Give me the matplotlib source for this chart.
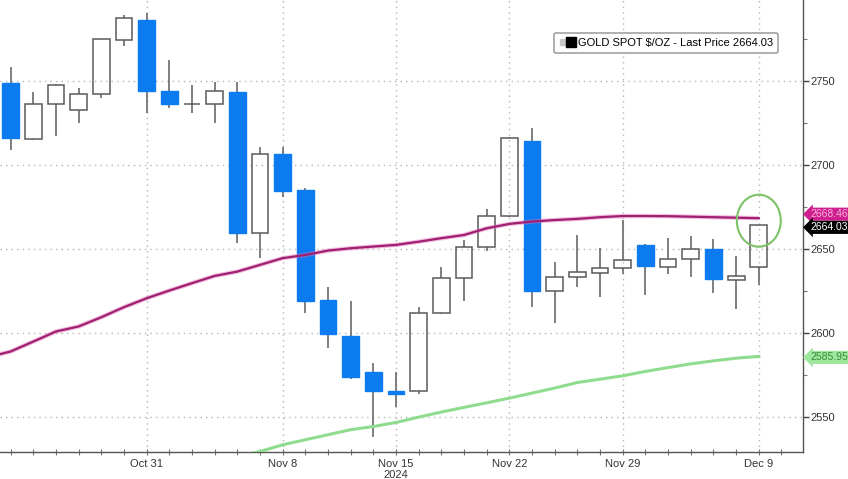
import numpy as np
import matplotlib
matplotlib.use("Agg")
import matplotlib.pyplot as plt
from matplotlib.lines import Line2D
from matplotlib.legend_handler import HandlerTuple
from matplotlib.patches import Ellipse
import matplotlib.transforms as mtransforms

plt.rcParams['font.family'] = ['Liberation Sans', 'DejaVu Sans']

# ---- data ----
dates = ["Oct 23", "Oct 24", "Oct 25", "Oct 28", "Oct 29", "Oct 30", "Oct 31",
         "Nov 1", "Nov 4", "Nov 5", "Nov 6", "Nov 7", "Nov 8",
         "Nov 11", "Nov 12", "Nov 13", "Nov 14", "Nov 15",
         "Nov 18", "Nov 19", "Nov 20", "Nov 21", "Nov 22",
         "Nov 25", "Nov 26", "Nov 27", "Nov 28", "Nov 29",
         "Dec 2", "Dec 3", "Dec 4", "Dec 5", "Dec 6", "Dec 9"]
opens = [2748.6, 2715.3, 2736.3, 2732.7, 2742.3, 2774.4, 2786.3,
         2744.2, 2736.2, 2736.3, 2743.6, 2659.3, 2706.5,
         2685.1, 2619.6, 2598.4, 2576.4, 2565.5,
         2565.1, 2612.1, 2632.6, 2651.0, 2669.6,
         2714.5, 2625.2, 2633.5, 2635.9, 2638.5,
         2652.4, 2639.5, 2643.9, 2650.0, 2631.5, 2639.5]
highs = [2758.5, 2743.6, 2748.0, 2745.6, 2775.2, 2789.3, 2790.3,
         2762.5, 2747.6, 2749.6, 2749.6, 2711.0, 2711.0,
         2686.0, 2627.2, 2619.2, 2582.0, 2576.4,
         2615.3, 2639.5, 2655.4, 2673.6, 2716.8,
         2721.8, 2642.4, 2658.3, 2650.4, 2667.0,
         2652.8, 2656.4, 2657.7, 2655.8, 2645.8, 2664.5]
lows = [2708.9, 2714.8, 2717.3, 2724.8, 2739.9, 2770.8, 2730.8,
        2733.8, 2730.8, 2725.2, 2653.7, 2644.5, 2681.1,
        2611.7, 2590.9, 2572.5, 2537.9, 2555.8,
        2563.5, 2611.3, 2619.2, 2649.0, 2669.0,
        2615.3, 2606.1, 2627.5, 2621.6, 2635.0,
        2622.6, 2635.1, 2633.5, 2624.0, 2614.1, 2628.6]
closes = [2715.9, 2736.3, 2747.6, 2742.3, 2774.8, 2787.3, 2744.2,
          2736.3, 2736.5, 2744.2, 2659.3, 2706.5, 2684.7,
          2619.2, 2599.2, 2573.6, 2565.5, 2563.5,
          2612.1, 2632.6, 2651.0, 2669.6, 2716.3,
          2625.2, 2633.5, 2636.5, 2638.5, 2643.5,
          2639.9, 2643.9, 2650.0, 2632.0, 2634.0, 2664.03]

# 50-day moving average (magenta), starts one session before Oct 23 (Oct 22)
ma50_start = -1
ma50 = [2585.5, 2588.9, 2594.8, 2600.8, 2603.8, 2609.3, 2615.3, 2620.6,
        2625.2, 2629.6, 2633.9, 2636.5, 2640.5, 2644.5,
        2646.4, 2649.0, 2650.4, 2651.4, 2652.4,
        2654.3, 2656.4, 2658.3, 2662.3, 2664.9,
        2666.3, 2667.2, 2667.9, 2668.9, 2669.6,
        2669.6, 2669.5, 2669.2, 2668.9, 2668.6, 2668.3]
# 200-day moving average (green), starts on Nov 6
ma200_start = 10
ma200 = [2526.5, 2529.3, 2533.3,
         2536.3, 2539.3, 2542.3, 2544.2, 2546.6,
         2549.8, 2552.8, 2555.6, 2558.3, 2561.1,
         2564.1, 2567.1, 2570.4, 2572.4, 2574.4,
         2577.0, 2579.3, 2581.5, 2583.3, 2584.9, 2585.95]

major_labels = ["Oct 31", "Nov 8", "Nov 15", "Nov 22", "Nov 29", "Dec 9"]
y_ticks = [2550, 2600, 2650, 2700, 2750]
legend_label = "GOLD SPOT $/OZ - Last Price 2664.03"
ma50_label = "2668.46"
last_label = "2664.03"
ma200_label = "2585.95"
year_label = "2024"

# ---- figure ----
W, H = 848, 479
fig = plt.figure(figsize=(W / 100, H / 100), dpi=100)
ax_l, ax_r, ax_t, ax_b = 0, 803, 0, 452
ax = fig.add_axes([ax_l / W, 1 - ax_b / H, (ax_r - ax_l) / W, (ax_b - ax_t) / H])

x = np.arange(len(dates))
o = np.array(opens); c = np.array(closes); h = np.array(highs); l = np.array(lows)
up = c >= o
blue = '#0b7bef'
edge_w = '#5a5a5a'
wick_c = '#6a6a6a'
bw = 0.74

body_lo = np.minimum(o, c)
body_hi = np.maximum(o, c)
# wicks
ax.vlines(x, body_hi, h, color=wick_c, lw=1.2, zorder=3)
ax.vlines(x, l, body_lo, color=wick_c, lw=1.2, zorder=3)
# bodies
ax.bar(x[up], (body_hi - body_lo)[up], bottom=body_lo[up], width=bw,
       facecolor='none', edgecolor=edge_w, lw=1.1, zorder=4)
ax.bar(x[~up], (body_hi - body_lo)[~up], bottom=body_lo[~up], width=bw,
       facecolor=blue, edgecolor=blue, lw=1.0, zorder=4)

# moving averages
x50 = np.arange(len(ma50)) + ma50_start
ax.plot(x50, ma50, color='#e070b8', lw=3.2, alpha=0.45, zorder=5, solid_capstyle='butt')
ax.plot(x50, ma50, color='#a01f72', lw=1.6, zorder=5)
x200 = np.arange(len(ma200)) + ma200_start
ax.plot(x200, ma200, color='#8fdc8f', lw=2.2, zorder=5)

# limits
ax.set_xlim(-0.47, 34.95)
ax.set_ylim(2529.0, 2798.3)

# axes styling
for s in ['left', 'top']:
    ax.spines[s].set_visible(False)
for s in ['bottom', 'right']:
    ax.spines[s].set_color('#555555')
    ax.spines[s].set_linewidth(1.0)

ax.yaxis.tick_right()
ax.set_yticks(y_ticks)
ax.set_yticklabels([str(v) for v in y_ticks])
ax.set_yticks([v + 25 for v in [2525] + y_ticks], minor=True)
ax.tick_params(axis='y', which='major', direction='out', length=4, width=1,
               color='#444444', labelsize=8, labelcolor='#333333', pad=1)
ax.tick_params(axis='y', which='minor', direction='out', length=3, width=0.8,
               color='#777777')

major_pos = [dates.index(d) for d in major_labels]
ax.set_xticks(major_pos)
ax.set_xticklabels(major_labels)
ax.set_xticks(np.arange(0, 35), minor=True)
ax.tick_params(axis='x', which='major', direction='inout', length=4, width=0.8,
               color='#777777', labelsize=8, labelcolor='#333333', pad=3)
ax.tick_params(axis='x', which='minor', direction='inout', length=4, width=0.8,
               color='#777777')

ax.text(dates.index("Nov 15"), -0.05, year_label, transform=mtransforms.blended_transform_factory(ax.transData, ax.transAxes),
        ha='center', va='center', fontsize=8, color='#333333')

# grid
ax.grid(True, which='major', axis='both', color='#b5b5b5', lw=1.0,
        linestyle=(0, (1, 3)), zorder=1)
ax.set_axisbelow(True)

# legend
h1 = Line2D([], [], marker='s', color='#c8c8c8', ls='', markersize=4)
h2 = Line2D([], [], marker='s', color='black', ls='', markersize=7)
leg = ax.legend([(h1, h2)], [legend_label],
                handler_map={tuple: HandlerTuple(ndivide=None, pad=0.05)},
                loc='upper right', bbox_to_anchor=(778 / 803, 1 - 33 / 452),
                borderaxespad=0, fontsize=8, frameon=True, fancybox=True,
                edgecolor='#8a8a8a', handlelength=1.4, handletextpad=0.3,
                borderpad=0.45)
leg.get_frame().set_linewidth(1.2)

# highlight circle around last candle
ax.add_patch(Ellipse((33, 2666.8), width=1.94, height=31, fill=False,
                     edgecolor='#7cc266', lw=1.5, zorder=6))

# right-hand value labels
trans = mtransforms.blended_transform_factory(ax.transAxes, ax.transData)
ax.annotate(ma50_label, xy=(1, ma50[-1]), xycoords=trans, xytext=(7, 4),
            textcoords='offset pixels', ha='left', va='center', fontsize=7.5,
            color='#f3b3dc', annotation_clip=False, zorder=7,
            bbox=dict(boxstyle='larrow,pad=0.15', fc='#d0208f', ec='none'))
ax.annotate(last_label, xy=(1, closes[-1]), xycoords=trans, xytext=(7, -2),
            textcoords='offset pixels', ha='left', va='center', fontsize=7.5,
            color='white', annotation_clip=False, zorder=8,
            bbox=dict(boxstyle='larrow,pad=0.15', fc='black', ec='none'))
ax.annotate(ma200_label, xy=(1, ma200[-1]), xycoords=trans, xytext=(7, -1),
            textcoords='offset pixels', ha='left', va='center', fontsize=7.5,
            color='#3a8a3a', annotation_clip=False, zorder=7,
            bbox=dict(boxstyle='larrow,pad=0.15', fc='#9de89d', ec='none'))

fig.savefig("out.png", dpi=100)
